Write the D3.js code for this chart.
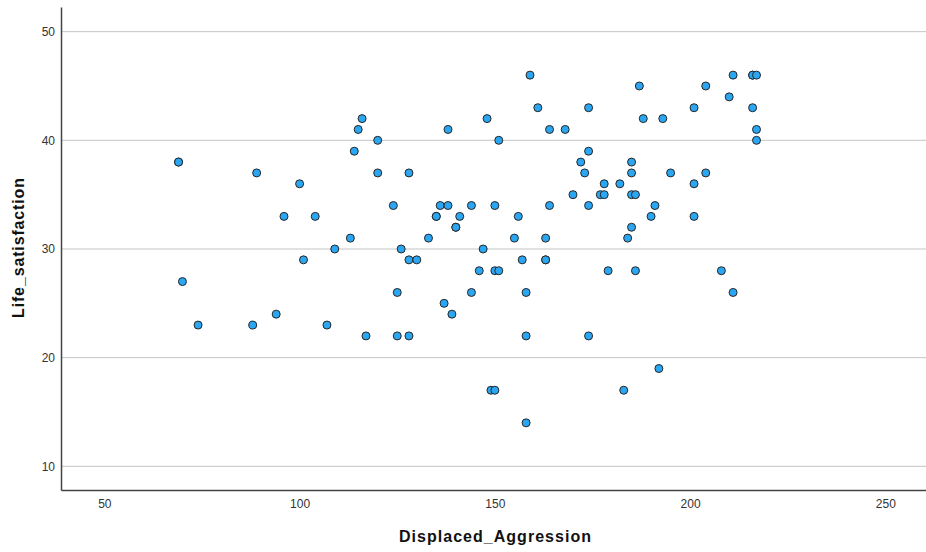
<!DOCTYPE html>
<html>
<head>
<meta charset="utf-8">
<script src="https://cdn.jsdelivr.net/npm/d3@7"></script>
<style>
  body { margin: 0; background: #fff; }
  svg { display: block; font-family: "Liberation Sans", Arial, sans-serif; }
</style>
</head>
<body>
<svg id="chart" width="926" height="552"></svg>
<script>
// Displaced_Aggression (x) and Life_satisfaction (y), one pair per respondent
const aggression = [
  69, 69, 70, 74, 88, 94, 89, 100, 96, 101, 104, 107, 109, 113, 114, 115, 116, 117,
  120, 120, 124, 125, 125, 126, 128, 128, 128, 130, 133, 135, 135, 136, 137, 138,
  138, 139, 140, 140, 141, 144, 144, 146, 147, 148, 149, 150, 150, 150, 151, 151,
  155, 156, 157, 158, 158, 158, 159, 161, 163, 163, 163, 164, 164, 168, 170, 172,
  173, 174, 174, 174, 174, 177, 178, 178, 179, 182, 183, 184, 185, 185, 185, 185,
  186, 186, 187, 188, 190, 191, 192, 193, 195, 201, 201, 201, 204, 204, 208, 210,
  211, 211, 216, 216, 216, 217, 217, 217
];
const satisfaction = [
  38, 38, 27, 23, 23, 24, 37, 36, 33, 29, 33, 23, 30, 31, 39, 41, 42, 22,
  40, 37, 34, 26, 22, 30, 37, 29, 22, 29, 31, 33, 33, 34, 25, 41,
  34, 24, 32, 32, 33, 34, 26, 28, 30, 42, 17, 34, 28, 17, 28, 40,
  31, 33, 29, 26, 22, 14, 46, 43, 31, 29, 29, 41, 34, 41, 35, 38,
  37, 43, 39, 34, 22, 35, 35, 36, 28, 36, 17, 31, 38, 37, 35, 32,
  35, 28, 45, 42, 33, 34, 19, 42, 37, 43, 36, 33, 45, 37, 28, 44,
  46, 26, 46, 43, 46, 46, 41, 40
];
const xTicks = [50, 100, 150, 200, 250];
const yTicks = [10, 20, 30, 40, 50];

const points = aggression.map((a, i) => ({ x: a, y: satisfaction[i] }));

const width = 926, height = 552;
const margin = { top: 7, right: 0, bottom: 62, left: 61 };

const svg = d3.select("#chart");

const x = d3.scaleLinear()
  .domain([38.9, 260.4])
  .range([margin.left, width - margin.right]);

const y = d3.scaleLinear()
  .domain([7.82, 52.27])
  .range([height - margin.bottom, margin.top]);

// horizontal grid lines
svg.append("g")
  .selectAll("line")
  .data(yTicks)
  .enter().append("line")
    .attr("x1", margin.left)
    .attr("x2", width - margin.right)
    .attr("y1", d => y(d))
    .attr("y2", d => y(d))
    .attr("stroke", "#c4c4c4")
    .attr("stroke-width", 1);

// x axis
const xAxis = svg.append("g")
  .attr("transform", `translate(0,${height - margin.bottom})`)
  .call(d3.axisBottom(x).tickValues(xTicks).tickSize(0).tickPadding(9));
xAxis.select(".domain").attr("stroke", "#444").attr("stroke-width", 1.5);
xAxis.selectAll("text").attr("font-size", 12).attr("fill", "#333")
  .attr("font-family", "Liberation Sans, Arial, sans-serif");

// y axis
const yAxis = svg.append("g")
  .attr("transform", `translate(${margin.left},0)`)
  .call(d3.axisLeft(y).tickValues(yTicks).tickSize(0).tickPadding(6));
yAxis.select(".domain").attr("stroke", "#444").attr("stroke-width", 1.5);
yAxis.selectAll("text").attr("font-size", 12).attr("fill", "#333")
  .attr("font-family", "Liberation Sans, Arial, sans-serif");

// points
svg.append("g")
  .selectAll("circle")
  .data(points)
  .enter().append("circle")
    .attr("cx", d => x(d.x))
    .attr("cy", d => y(d.y))
    .attr("r", 4)
    .attr("fill", "#2ba6f2")
    .attr("stroke", "#262626")
    .attr("stroke-width", 1);

// axis titles
svg.append("text")
  .attr("x", 495)
  .attr("y", 542)
  .attr("text-anchor", "middle")
  .attr("font-size", 16)
  .attr("font-weight", "bold")
  .attr("fill", "#111")
  .attr("textLength", 192)
  .attr("lengthAdjust", "spacing")
  .text("Displaced_Aggression");

svg.append("text")
  .attr("transform", "translate(24,248) rotate(-90)")
  .attr("text-anchor", "middle")
  .attr("font-size", 16)
  .attr("font-weight", "bold")
  .attr("fill", "#111")
  .attr("textLength", 140)
  .attr("lengthAdjust", "spacing")
  .text("Life_satisfaction");
</script>
</body>
</html>
